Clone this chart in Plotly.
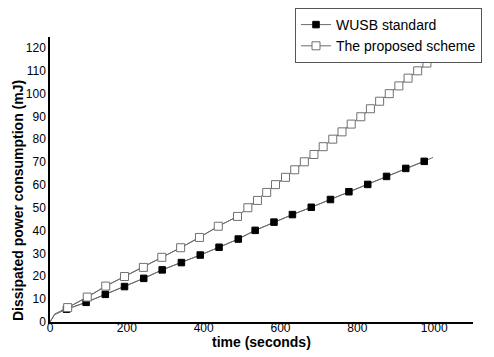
import plotly.graph_objects as go

# WUSB standard (filled squares)
wusb_t = [43, 94, 144, 194, 244, 292, 342, 391, 440, 490, 534, 583, 631, 680, 730, 778, 827, 876, 926, 974]
wusb_v = [5.6, 8.6, 12.1, 15.5, 19.1, 22.8, 26.0, 29.3, 32.7, 36.3, 40.1, 43.7, 47.0, 50.2, 53.6, 57.0, 60.2, 63.7, 67.2, 70.3]
wusb_line_t = [0, 12] + wusb_t + [997]
wusb_line_v = [0, 3.2] + wusb_v + [72.0]

# The proposed scheme (open squares)
prop_t = [46, 97, 145, 194, 243, 291, 340, 389, 438, 488, 515, 540, 564, 587, 613, 637, 662, 687, 711,
          736, 760, 784, 809, 834, 858, 883, 908, 932, 957, 981]
prop_v = [6.3, 10.9, 15.7, 19.9, 23.9, 28.3, 32.5, 37.0, 41.9, 46.2, 50.0, 53.2, 56.7, 60.1, 63.3, 66.6,
          70.1, 73.3, 76.7, 80.0, 83.2, 86.6, 89.8, 93.3, 96.6, 99.9, 103.3, 106.7, 109.9, 113.3]
prop_line_t = [0, 12] + prop_t + [998]
prop_line_v = [0, 3.5] + prop_v + [115.5]

x_ticks = [0, 200, 400, 600, 800, 1000]
y_ticks = list(range(0, 121, 10))

FONT = "Arial, Liberation Sans, sans-serif"
LINE_COLOR = "#6a6a6a"

# page body has an 8px margin; figure coordinates are page coordinates minus 8
W, H = 478, 346
L, R, T, B = 42, 13, 29, 32
PH = H - T - B

fig = go.Figure()
fig.add_trace(go.Scatter(x=wusb_line_t, y=wusb_line_v, mode="lines",
                         line=dict(color=LINE_COLOR, width=1), showlegend=False, hoverinfo="skip"))
fig.add_trace(go.Scatter(x=prop_line_t, y=prop_line_v, mode="lines",
                         line=dict(color=LINE_COLOR, width=1), showlegend=False, hoverinfo="skip"))
fig.add_trace(go.Scatter(x=wusb_t, y=wusb_v, mode="lines+markers", name="WUSB standard",
                         line=dict(color=LINE_COLOR, width=1),
                         marker=dict(symbol="square", size=6.5, color="black",
                                     line=dict(color="black", width=1))))
fig.add_trace(go.Scatter(x=prop_t, y=prop_v, mode="lines+markers", name="The proposed scheme",
                         line=dict(color=LINE_COLOR, width=1),
                         marker=dict(symbol="square", size=8, color="white",
                                     line=dict(color="#707070", width=1))))

fig.update_layout(
    width=W, height=H,
    margin=dict(l=L, r=R, t=T, b=B, autoexpand=False),
    plot_bgcolor="white", paper_bgcolor="white",
    font=dict(family=FONT, size=12, color="black"),
    legend=dict(xref="container", yref="container", x=(295-8)/W, y=1.0,
                xanchor="left", yanchor="top",
                bordercolor="#555555", borderwidth=1, bgcolor="white",
                font=dict(family=FONT, size=14, color="black"),
                tracegroupgap=0),
    xaxis=dict(range=[0, 1101], tickvals=x_ticks, ticks="", showline=True, linecolor="black",
               linewidth=1.5, showgrid=False, zeroline=False, tickfont=dict(size=12),
               automargin=False, ticklabelstandoff=-6),
    yaxis=dict(range=[0, 124.7], tickvals=y_ticks, ticks="", showline=True, linecolor="black",
               linewidth=1.5, showgrid=False, zeroline=False, tickfont=dict(size=12),
               ticklabelstandoff=0, automargin=False),
    annotations=[
        dict(text="<b>time (seconds)</b>", xref="paper", yref="paper", x=0.501, y=(314-334)/PH,
             xanchor="center", yanchor="middle", showarrow=False, font=dict(size=14, family=FONT)),
        dict(text="<b>Dissipated power consumption (mJ)</b>", xref="paper", yref="paper",
             x=(10-42)/423, y=(314-193)/PH, textangle=-90,
             xanchor="center", yanchor="middle", showarrow=False, font=dict(size=14, family=FONT)),
    ],
)

fig.write_html("out.html")
